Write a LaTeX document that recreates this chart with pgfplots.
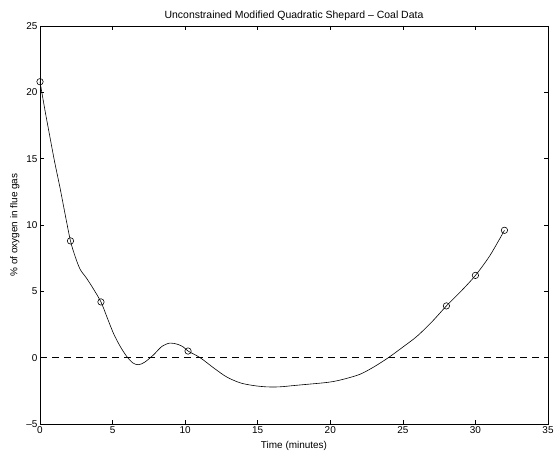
\documentclass[border=0pt]{standalone}
\usepackage{pgfplots}
\pgfplotsset{compat=1.18}
\usepackage{fontspec}
\setmainfont{Liberation Sans}
\usetikzlibrary{calc}
\begin{document}
\begin{tikzpicture}
\begin{axis}[
  name=ax,
  scale only axis,
  width=508bp, height=398bp,
  xmin=0, xmax=35, ymin=-5, ymax=25,
  xtick={0,5,...,35},
  ytick={-5,0,...,25},
  yticklabels={–5,0,5,10,15,20,25},
  tick align=inside,
  major tick length=4bp,
  tick style={black, line width=0.5pt},
  axis line style={black, line width=0.7pt},
  /pgf/number format/assume math mode=true,
  tick label style={font=\fontsize{10}{12}\selectfont},
  label style={font=\fontsize{10}{12}\selectfont},
  title style={font=\fontsize{10.5}{12}\selectfont, yshift=-4bp},
  title={Unconstrained Modified Quadratic Shepard – Coal Data},
  xlabel={Time (minutes)},
  ylabel={\% of oxygen in flue gas},
  xlabel style={yshift=-1bp},
  ylabel style={yshift=0bp},
  xticklabel style={yshift=1bp},
  yticklabel style={xshift=1bp},
  clip=false,
]
\addplot[black, line width=0.6pt, smooth, tension=0.5] coordinates {
(0,20.8) (0.35,18.6) (0.69,16.6) (1.0,14.8) (1.38,12.8) (1.75,10.7) (2.1,8.8)
(2.4,7.7) (2.76,6.67) (3.2,6.0) (3.67,5.2) (4.2,4.2) (4.6,3.1) (5.05,1.86)
(5.5,0.9) (5.97,0.1) (6.4,-0.4) (6.78,-0.53) (7.2,-0.35) (7.81,0.2) (8.4,0.85)
(8.96,1.1) (9.5,1.0) (9.88,0.8) (10.2,0.5) (11.03,0.0) (12.0,-0.8) (12.87,-1.46)
(13.8,-1.9) (14.7,-2.1) (15.6,-2.2) (16.5,-2.2) (17.5,-2.1) (18.5,-2.0)
(19.5,-1.9) (20.2,-1.8) (21.0,-1.6) (22.05,-1.25) (23.0,-0.7) (24.0,0.0)
(25.0,0.8) (25.96,1.6) (27.0,2.7) (28.0,3.9) (29.0,5.0) (30.0,6.2) (31.0,7.7)
(32.0,9.6)
};
\addplot[black, only marks, mark=o, mark size=3.2bp, line width=0.6pt] coordinates {
(0,20.8) (2.1,8.8) (4.2,4.2) (10.2,0.5) (28,3.9) (30,6.2) (32,9.6)
};
\addplot[black, line width=0.6pt, dash pattern=on 7bp off 5bp] coordinates {(0,0) (35,0)};
\end{axis}
\pgfresetboundingbox
\path ($(ax.south west)+(-40bp,-28bp)$) rectangle ($(ax.north east)+(9bp,26bp)$);
\end{tikzpicture}
\end{document}
